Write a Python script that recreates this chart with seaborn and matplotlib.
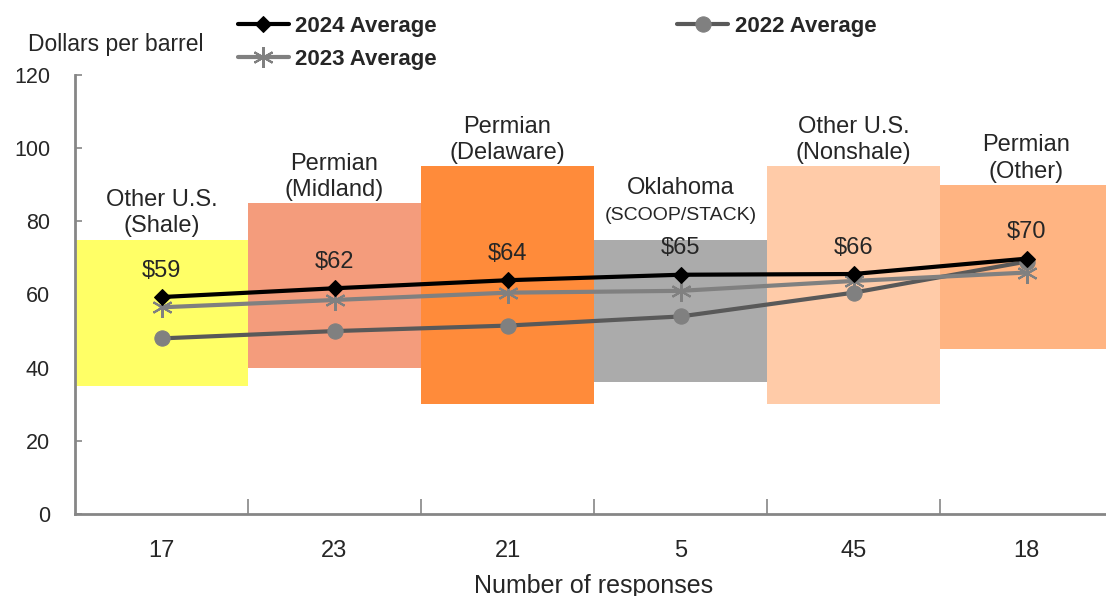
import matplotlib
matplotlib.use("Agg")
import matplotlib.pyplot as plt
import seaborn as sns
import pandas as pd

# Data
basins = ["Other U.S.\n(Shale)", "Permian\n(Midland)", "Permian\n(Delaware)",
          "Oklahoma\n(SCOOP/STACK)", "Other U.S.\n(Nonshale)", "Permian\n(Other)"]
responses = ["17", "23", "21", "5", "45", "18"]
range_low = [35, 40, 30, 36, 30, 45]
range_high = [75, 85, 95, 75, 95, 90]
avg_2024 = [59.3, 61.7, 63.9, 65.4, 65.6, 69.8]
avg_2023 = [56.5, 58.5, 60.5, 61.0, 63.7, 66.0]
avg_2022 = [48.0, 50.0, 51.5, 54.0, 60.5, 69.0]
bar_colors = ["#FFFF66", "#F49C7C", "#FF8B3A", "#ABABAB", "#FFCBA8", "#FFB482"]

sns.set_theme(style="white")
plt.rcParams["font.family"] = ["Liberation Sans", "DejaVu Sans"]

df = pd.DataFrame({"pos": range(len(basins)), "basin": basins, "low": range_low,
                   "span": [h - l for h, l in zip(range_high, range_low)]})

fig = plt.figure(figsize=(11.06, 5.96), dpi=100)
ax = fig.add_axes([75 / 1106, 82 / 596, 1038 / 1106, 439 / 596])

# floating range bars
sns.barplot(data=df, x="pos", y="span", bottom=df["low"].tolist(), width=1.0,
            color="#cccccc", saturation=1, linewidth=0, ax=ax, errorbar=None)
for patch, c in zip(ax.patches, bar_colors):
    patch.set_facecolor(c)
    patch.set_edgecolor(c)

x = list(range(len(basins)))
sns.lineplot(x=x, y=avg_2024, color="black", lw=3, marker="D", markersize=8,
             markeredgecolor="black", label="2024 Average", ax=ax, zorder=5)
sns.lineplot(x=x, y=avg_2022, color="#595959", lw=3, marker="o", markersize=11,
             markerfacecolor="#808080", markeredgecolor="#808080",
             label="2022 Average", ax=ax, zorder=3)
sns.lineplot(x=x, y=avg_2023, color="#808080", lw=3, marker=(6, 2, 0), markersize=15,
             markeredgecolor="#808080", markeredgewidth=1.5,
             label="2023 Average", ax=ax, zorder=4)

# value labels
for i, v in enumerate(avg_2024):
    ax.annotate(f"${v:.0f}", (i, v), xytext=(0, 11), textcoords="offset points",
                ha="center", va="bottom", fontsize=17, zorder=6)

# basin names above ranges
for i, (name, top) in enumerate(zip(basins, range_high)):
    first, second = name.split("\n")
    if "SCOOP" in second:
        ax.text(i, top + 4.2, second, ha="center", va="bottom", fontsize=14)
        ax.text(i, top + 11.0, first, ha="center", va="bottom", fontsize=17)
    else:
        ax.text(i, top + 0.6, second, ha="center", va="bottom", fontsize=17)
        ax.text(i, top + 7.8, first, ha="center", va="bottom", fontsize=17)

ax.set_xlim(-0.5, 5.5)
ax.set_ylim(0, 120)
ax.set_yticks(range(0, 121, 20))
ax.tick_params(axis="y", direction="in", length=5, width=1.2, color="#868686",
               labelsize=15.5, left=True, pad=18)
ax.set_xticks(x)
ax.set_xticklabels(responses)
ax.set_xticks([i + 0.5 for i in range(5)], minor=True)
ax.tick_params(axis="x", which="major", length=0, labelsize=17, pad=19)
ax.tick_params(axis="x", which="minor", direction="in", length=11, width=1.2,
               color="#868686", bottom=True)
ax.set_xlabel("Number of responses", fontsize=18, labelpad=8)
ax.set_ylabel("")
for s in ["top", "right"]:
    ax.spines[s].set_visible(False)
for s in ["left", "bottom"]:
    ax.spines[s].set_color("#868686")
    ax.spines[s].set_linewidth(2)

fig.text(28 / 1106, 1 - 44 / 596, "Dollars per barrel", fontsize=16.5, va="center")

handles, labels = ax.get_legend_handles_labels()
order = [labels.index(l) for l in ["2024 Average", "2023 Average", "2022 Average"]]
ax.legend([handles[i] for i in order], [labels[i] for i in order], ncol=2,
          loc="upper left", bbox_to_anchor=(222 / 1106, 1.0), bbox_transform=fig.transFigure,
          frameon=False, prop={"weight": "bold", "size": 16}, handlelength=2.3,
          handletextpad=0.3, columnspacing=10.8, labelspacing=0.55, borderpad=0.2)

fig.savefig("out.png", dpi=100)
